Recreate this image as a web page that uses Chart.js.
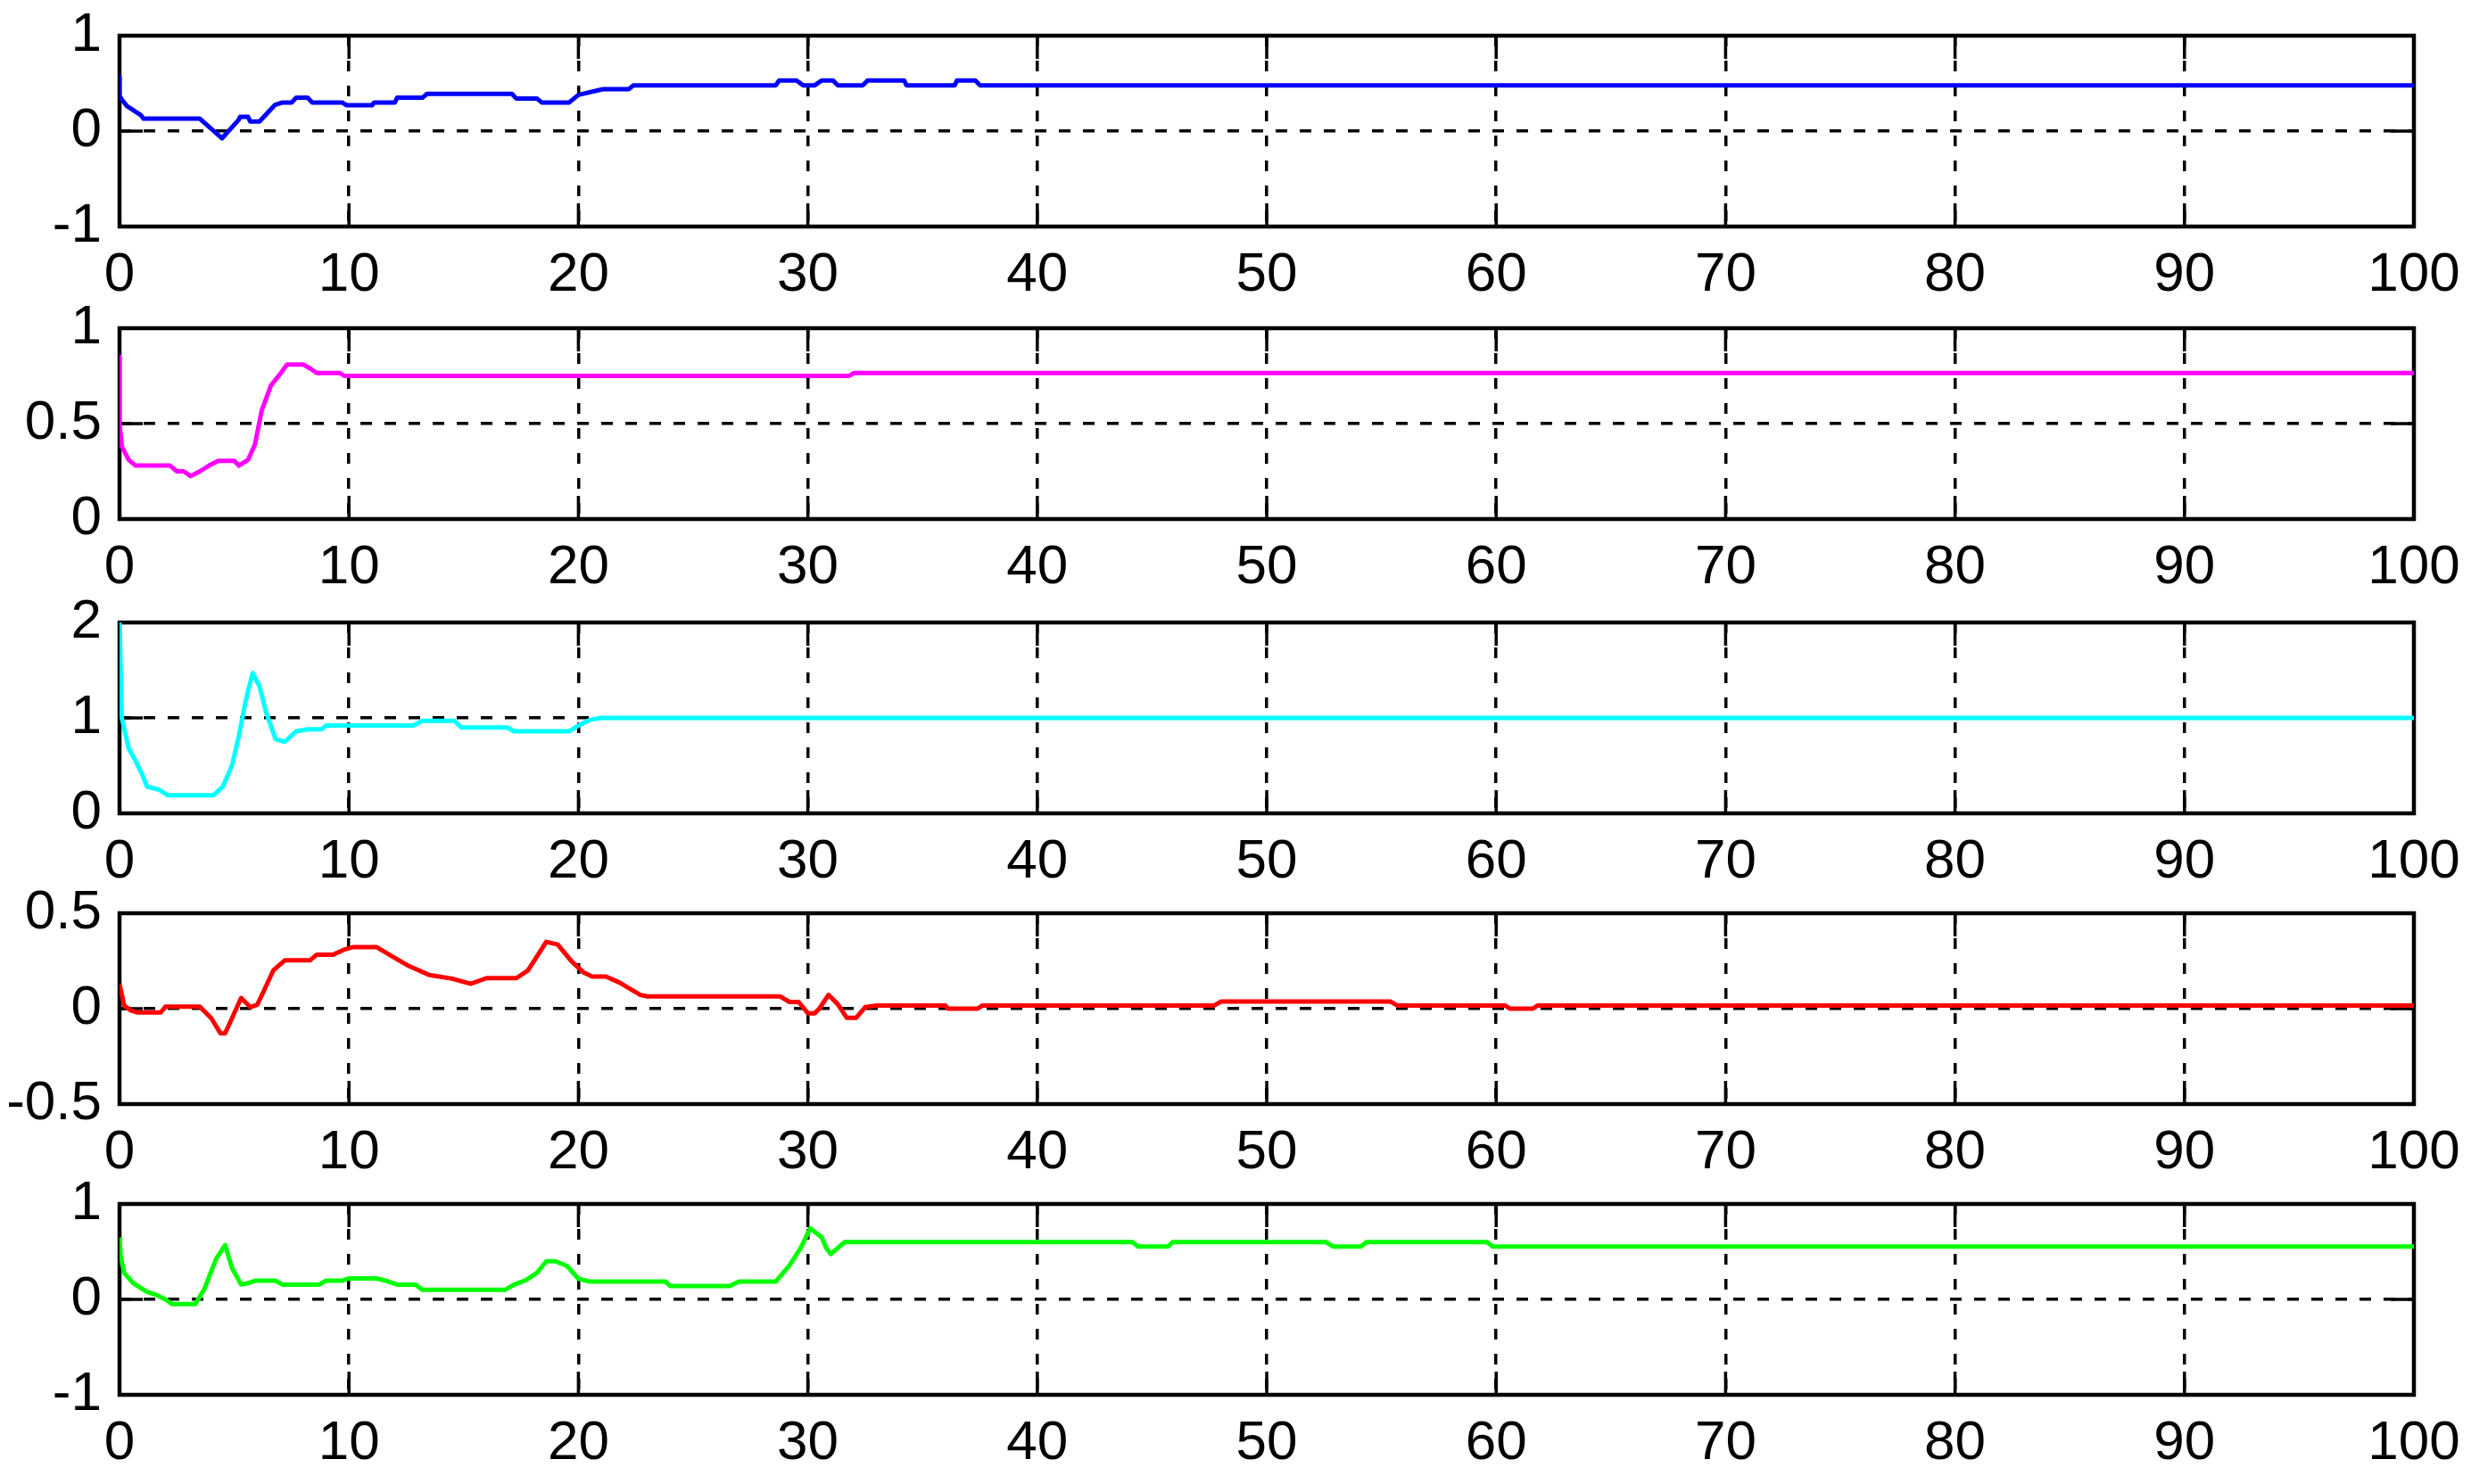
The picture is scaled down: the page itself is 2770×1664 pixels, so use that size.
<!DOCTYPE html>
<html>
<head>
<meta charset="utf-8">
<script src="https://cdn.jsdelivr.net/npm/chart.js@4.4.1/dist/chart.umd.min.js"></script>
<style>
  html,body{margin:0;padding:0;background:#fff;}
  body{width:2770px;height:1664px;position:relative;overflow:hidden;}
  .panel{position:absolute;left:0;width:2770px;height:330px;}
</style>
</head>
<body>
<div class="panel" id="p0"><canvas id="c0"></canvas></div>
<div class="panel" id="p1"><canvas id="c1"></canvas></div>
<div class="panel" id="p2"><canvas id="c2"></canvas></div>
<div class="panel" id="p3"><canvas id="c3"></canvas></div>
<div class="panel" id="p4"><canvas id="c4"></canvas></div>
<script>
// ---------- data ----------
const xTickValues = [0,10,20,30,40,50,60,70,80,90,100];

const blueT = [0,0,0.13,0.33,0.53,0.72,0.92,1.05,3.5,4.47,5.2,5.26,5.6,5.7,6.1,6.78,7.1,7.5,7.7,8.2,8.4,9.7,9.9,11.0,11.1,12.0,12.1,13.2,13.4,17.1,17.3,18.2,18.4,19.6,20.0,20.9,21.1,22.2,22.4,28.6,28.75,29.5,29.8,30.3,30.6,31.1,31.3,32.4,32.6,34.2,34.3,36.4,36.5,37.3,37.5,100];
const blueV = [0.57,0.37,0.32,0.26,0.23,0.20,0.17,0.13,0.13,-0.075,0.12,0.15,0.15,0.10,0.10,0.275,0.30,0.30,0.35,0.35,0.30,0.30,0.27,0.27,0.30,0.30,0.35,0.35,0.39,0.39,0.34,0.34,0.30,0.30,0.38,0.43,0.44,0.44,0.48,0.48,0.53,0.53,0.48,0.48,0.53,0.53,0.48,0.48,0.53,0.53,0.48,0.48,0.53,0.53,0.48,0.48];

const magentaT = [0,0,0.1,0.4,0.7,2.2,2.5,2.8,3.1,3.5,3.9,4.3,5.0,5.2,5.6,5.9,6.2,6.6,7.0,7.3,8.0,8.3,8.6,9.6,9.8,31.8,32.0,100];
const magentaV = [0.85,0.5,0.38,0.31,0.28,0.28,0.25,0.25,0.225,0.25,0.28,0.305,0.305,0.28,0.31,0.39,0.57,0.70,0.76,0.81,0.81,0.79,0.765,0.765,0.75,0.75,0.765,0.765];

const cyanT = [0,0.1,0.4,0.7,1.0,1.2,1.7,2.1,4.1,4.5,4.9,5.2,5.5,5.8,6.1,6.4,6.8,7.2,7.7,8.2,8.8,9.0,12.8,13.2,14.6,14.9,16.9,17.2,19.6,20.0,20.5,21.0,100];
const cyanV = [2.0,1.0,0.68,0.55,0.40,0.28,0.25,0.19,0.19,0.28,0.50,0.81,1.18,1.47,1.33,1.05,0.78,0.75,0.86,0.88,0.88,0.92,0.92,0.97,0.97,0.90,0.90,0.86,0.86,0.92,0.98,1.0,1.0];

const redT = [0,0.2,0.5,0.8,1.8,2.0,3.5,4.0,4.4,4.6,4.9,5.3,5.7,6.0,6.3,6.7,7.2,8.3,8.6,9.3,9.8,10.2,11.2,11.8,12.6,13.5,14.5,15.3,16.0,17.3,17.8,18.6,19.1,19.7,20.2,20.6,21.2,21.8,22.7,23.0,28.8,29.2,29.6,30.0,30.3,30.5,30.9,31.3,31.7,32.1,32.5,33.0,36.0,36.1,37.4,37.6,47.7,48.0,55.4,55.7,60.4,60.6,61.6,61.8,100];
const redV = [0.13,0.016,-0.01,-0.02,-0.02,0.01,0.01,-0.05,-0.13,-0.13,-0.05,0.056,0.008,0.02,0.096,0.20,0.253,0.253,0.283,0.283,0.31,0.323,0.323,0.28,0.224,0.176,0.157,0.13,0.16,0.16,0.20,0.35,0.336,0.248,0.192,0.168,0.168,0.136,0.072,0.064,0.064,0.035,0.035,-0.024,-0.024,0,0.072,0.024,-0.048,-0.048,0.008,0.016,0.016,0.0,0.0,0.016,0.016,0.037,0.037,0.016,0.016,0.0,0.0,0.016,0.016];

const greenT = [0,0.05,0.2,0.6,1.2,1.6,2.0,2.3,3.3,3.7,4.2,4.6,4.9,5.3,5.6,5.9,6.8,7.1,8.7,9.0,9.7,10.0,11.2,11.6,12.1,12.9,13.2,16.8,17.2,17.7,18.2,18.6,19.0,19.5,20.0,20.5,23.8,24.0,26.6,27.0,28.6,29.2,29.7,30.1,30.6,30.8,31.0,31.6,44.15,44.4,45.7,45.9,52.6,52.9,54.1,54.35,59.6,59.85,100];
const greenV = [0.65,0.45,0.28,0.17,0.078,0.047,0.0,-0.05,-0.05,0.11,0.42,0.57,0.33,0.155,0.17,0.196,0.196,0.155,0.155,0.196,0.196,0.22,0.22,0.196,0.155,0.155,0.10,0.10,0.155,0.20,0.28,0.40,0.40,0.35,0.217,0.186,0.186,0.14,0.14,0.186,0.186,0.357,0.543,0.745,0.652,0.54,0.475,0.60,0.60,0.553,0.553,0.60,0.60,0.553,0.553,0.60,0.60,0.553,0.553];

const yMins  = [-1, 0, 0, -0.5, -1];
const yMaxs  = [ 1, 1, 2,  0.5,  1];
const ySteps = [ 1, 0.5, 1, 0.5, 1];

// ---------- styling / layout ----------
const panels = [
  {t: blueT,    v: blueV,    color: '#0000ff'},
  {t: magentaT, v: magentaV, color: '#ff00ff'},
  {t: cyanT,    v: cyanV,    color: '#00ffff'},
  {t: redT,     v: redV,     color: '#ff0000'},
  {t: greenT,   v: greenV,   color: '#00ff00'}
];
const boxTops = [40, 368, 698, 1024, 1350];
const PAD_TOP = 40, AREA_H = 214, PANEL_H = 330;
const LEFT = 134, RIGHT_PAD = 2770 - 2706;

// pick a condensed face if available
function hasFont(name) {
  const c = document.createElement('canvas').getContext('2d');
  c.font = '72px monospace';
  const w0 = c.measureText('0123456789-').width;
  c.font = '72px "' + name + '", monospace';
  return Math.abs(c.measureText('0123456789-').width - w0) > 1;
}
const narrow = hasFont('Liberation Sans Narrow');
const FONT = narrow
  ? {family: "'Liberation Sans Narrow', 'Liberation Sans', Arial, sans-serif", size: 72}
  : {family: "'Liberation Sans', Arial, sans-serif", size: 62};

const boxPlugin = {
  id: 'matlabBox',
  beforeDatasetsDraw(chart) {
    const {ctx, chartArea: a, scales} = chart;
    ctx.save();
    ctx.strokeStyle = '#000';
    ctx.lineWidth = 3.5;
    const TL = 26;
    ctx.beginPath();
    scales.x.ticks.forEach(tk => {
      const px = scales.x.getPixelForValue(tk.value);
      ctx.moveTo(px, a.bottom); ctx.lineTo(px, a.bottom - TL);
      ctx.moveTo(px, a.top); ctx.lineTo(px, a.top + TL);
    });
    scales.y.ticks.forEach(tk => {
      const py = scales.y.getPixelForValue(tk.value);
      ctx.moveTo(a.left, py); ctx.lineTo(a.left + TL, py);
      ctx.moveTo(a.right, py); ctx.lineTo(a.right - TL, py);
    });
    ctx.stroke();
    ctx.lineWidth = 4.5;
    ctx.strokeRect(a.left, a.top, a.right - a.left, a.bottom - a.top);
    ctx.restore();
  }
};

const fmt = v => String(+Number(v).toFixed(3));

panels.forEach((p, i) => {
  const div = document.getElementById('p' + i);
  div.style.top = (boxTops[i] - PAD_TOP) + 'px';
  const data = p.t.map((t, k) => ({x: t, y: p.v[k]}));
  new Chart(document.getElementById('c' + i), {
    type: 'line',
    data: {datasets: [{
      data: data,
      borderColor: p.color,
      borderWidth: 5,
      pointRadius: 0,
      tension: 0,
      fill: false,
      borderJoinStyle: 'round'
    }]},
    options: {
      responsive: true,
      maintainAspectRatio: false,
      animation: false,
      events: [],
      plugins: {legend: {display: false}, tooltip: {enabled: false}},
      layout: {padding: {top: PAD_TOP, right: RIGHT_PAD, left: 0, bottom: 0}},
      scales: {
        x: {
          type: 'linear', min: 0, max: 100,
          afterFit: s => { s.height = PANEL_H - PAD_TOP - AREA_H; s.paddingLeft = 0; s.paddingRight = 0; },
          afterBuildTicks: s => { s.ticks = xTickValues.map(v => ({value: v})); },
          ticks: {font: FONT, color: '#000', padding: 18, maxRotation: 0, autoSkip: false, callback: fmt},
          grid: {color: (c) => (c.tick && (c.tick.value === 0 || c.tick.value === 100)) ? 'rgba(0,0,0,0)' : '#000',
                 lineWidth: 3.5, drawTicks: false},
          border: {display: false, dash: [12, 16]}
        },
        y: {
          type: 'linear', min: yMins[i], max: yMaxs[i],
          afterFit: s => { s.width = LEFT; s.paddingTop = 0; s.paddingBottom = 0; },
          ticks: {font: FONT, color: '#000', padding: 20, stepSize: ySteps[i], callback: fmt},
          grid: {color: (c) => (c.index === 1) ? '#000' : 'rgba(0,0,0,0)', lineWidth: 3.5, drawTicks: false},
          border: {display: false, dash: [13, 14]}
        }
      }
    },
    plugins: [boxPlugin]
  });
});
</script>
</body>
</html>
